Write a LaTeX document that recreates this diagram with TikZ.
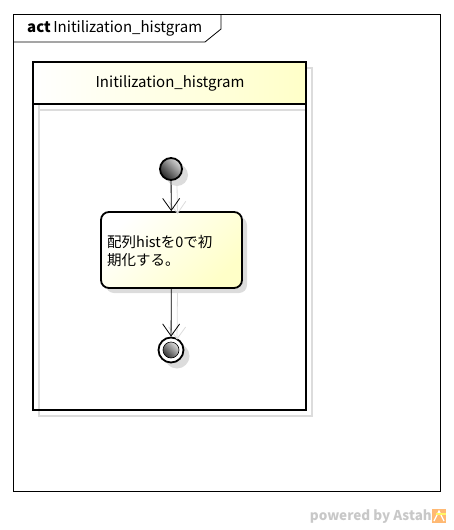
\documentclass[tikz,border=0pt]{standalone}
\usepackage{fontspec}
\setmainfont{Noto Sans CJK JP}
\usetikzlibrary{arrows.meta,positioning,shadows}

\definecolor{noteyellow}{HTML}{FFFFC8}
\definecolor{shadowgray}{HTML}{DCDCDC}
\definecolor{astahgray}{HTML}{C8C8C8}

\tikzset{
	lanetext/.style={font=\fontsize{15}{17}\selectfont},
	actiontext/.style={font=\fontsize{14.5}{18}\selectfont},
	actionbox/.style={draw=black, line width=1.8pt, rounded corners=8pt,
		minimum width=141pt, minimum height=76pt, inner sep=0pt,
		left color=white, right color=noteyellow, shading angle=45,
		drop shadow={shadow xshift=5pt, shadow yshift=-5pt, fill=shadowgray, opacity=1}},
	startdot/.style={circle, draw=black, line width=1.8pt, minimum size=22pt, inner sep=0pt,
		left color=gray!30, right color=black!85, shading angle=-45,
		drop shadow={shadow xshift=6pt, shadow yshift=-6pt, fill=shadowgray, opacity=1}},
	enddot/.style={circle, draw=black, line width=1.8pt, minimum size=25pt, inner sep=0pt, fill=white,
		drop shadow={shadow xshift=6pt, shadow yshift=-6pt, fill=shadowgray, opacity=1}},
	flow/.style={draw=black, line width=0.8pt, -{Straight Barb[length=12pt, width=17pt, line width=0.8pt]}},
	flowshadow/.style={draw=shadowgray, line width=0.8pt, -{Straight Barb[length=12pt, width=17pt, line width=0.8pt]}}
}

\begin{document}
\begin{tikzpicture}[x=1pt, y=-1pt]
	\useasboundingbox (0,0) rectangle (453,530);

	% frame
	\draw[line width=0.8pt] (13,14) rectangle (440,491);
	\draw[line width=0.8pt] (13,42) -- (205,42) -- (221,29) -- (221,14);
	\node[lanetext, anchor=west, inner sep=0pt] (frametitle) at (27,28) {\textbf{act}\,Initilization\_histgram};

	% partition
	\shade[left color=white, right color=noteyellow] (33,62) rectangle (306,104);
	\draw[shadowgray, line width=2.5pt] (39,104) -- (39,416) -- (312,416) -- (312,68) -- (306,68);
	\draw[shadowgray, line width=2.5pt] (39,110) -- (306,110);
	\draw[line width=1.8pt] (33,62) rectangle (306,410);
	\draw[line width=1.8pt] (33,104) -- (306,104);
	\node[lanetext] (lanetitle) at (170,83) {Initilization\_histgram};

	% nodes
	\node[startdot] (start) at (171,169) {};
	\node[actionbox] (init) at (171.5,250) {};
	\node[actiontext, anchor=north west, align=left, inner sep=0pt] (inittext) at (107,235)
		{配列histを0で初\\期化する。};
	\node[enddot] (stop) at (171,350) {};
	\node[circle, draw=black, line width=0.6pt, minimum size=16pt, inner sep=0pt,
		left color=gray!25, right color=black!80, shading angle=-45] (stopcore) at (stop) {};

	% flows
	\draw[flowshadow] ([xshift=6pt, yshift=-3pt]start.south) -- ([xshift=6pt, yshift=-3pt]init.north);
	\draw[flow] (start) -- (init);
	\draw[flowshadow] ([xshift=6pt, yshift=-3pt]init.south) -- ([xshift=6pt, yshift=-3pt]stop.north);
	\draw[flow] (init) -- (stop);

	% footer
	\node[font=\fontsize{13.5}{14}\selectfont\bfseries, text=astahgray, anchor=east, inner sep=0pt] (powered)
		at (432,517) {powered by Astah};
	\fill[orange!55] (432,509) rectangle (446,523);
	\draw[white, line width=1.2pt] (434,521) -- (439,511) -- (444,521);
	\draw[yellow!60, line width=1.2pt] (436,514) -- (446,514);
\end{tikzpicture}
\end{document}
